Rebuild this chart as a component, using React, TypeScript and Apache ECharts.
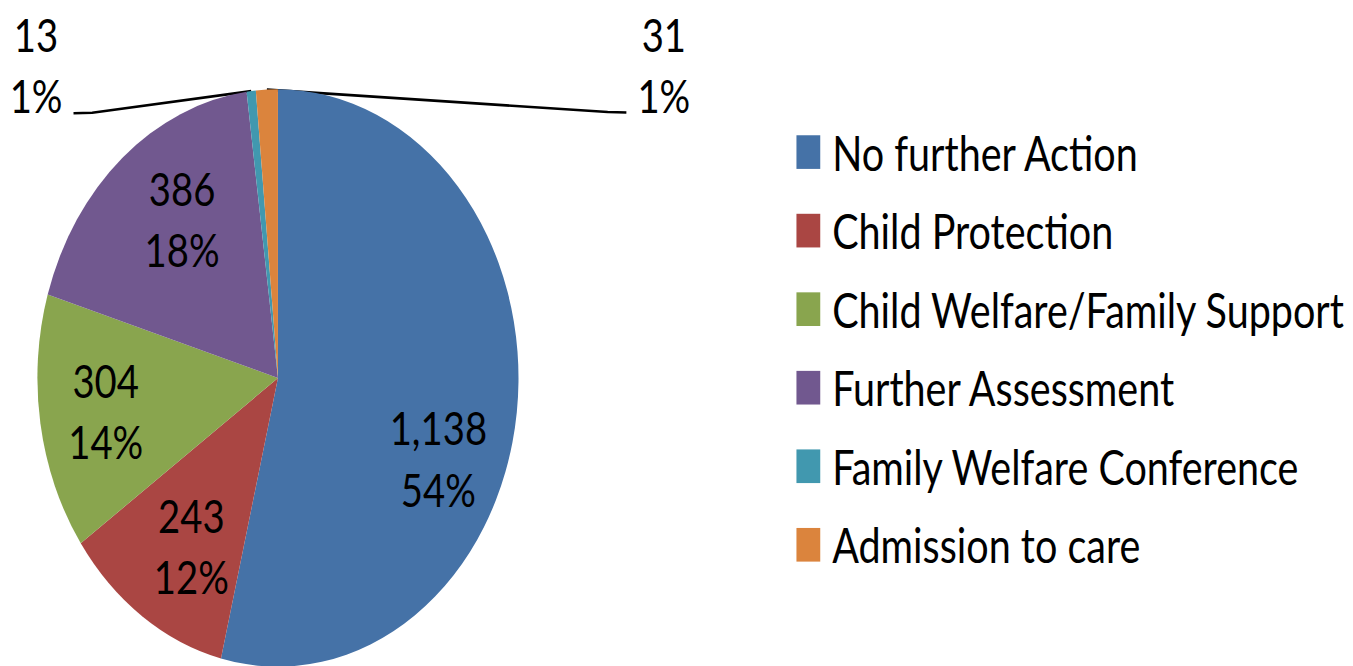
import React, { useEffect, useRef } from "react";
import * as echarts from "echarts";

// ---- data ----
const categories = [
  "No further Action",
  "Child Protection",
  "Child Welfare/Family Support",
  "Further Assessment",
  "Family Welfare Conference",
  "Admission to care",
];
const values = [1138, 243, 304, 386, 13, 31];
const percentLabels = ["54%", "12%", "14%", "18%", "1%", "1%"];
const colors = ["#4572A7", "#AA4643", "#89A54E", "#71588F", "#4198AF", "#DB843D"];

// ---- layout (unscaled chart coordinates) ----
const SX = 0.85;
const SY = 1.02;
const W = 1353;
const H = 666;
const CW = Math.round(W / SX);
const CH = Math.round(H / SY);
const CX = 327;
const CY = 370.6;
const R = 283;
const INSIDE_K = 1.42;
const FONT = "Lato, 'Open Sans', sans-serif";
// small best-fit nudges for the inside labels (layout only)
const LABEL_NUDGE: [number, number][] = [
  [-15, 54],
  [14, -5],
  [0, 0],
  [20, 0],
];
const OUT_LABELS = [
  { x: 42.4, y: 63, lineY: 110.5, side: 1 },
  { x: 781, y: 63, lineY: 109.8, side: -1 },
];

export default function App() {
  const ref = useRef<HTMLDivElement>(null);

  useEffect(() => {
    if (!ref.current) return;
    const chart = echarts.init(ref.current, undefined, { renderer: "svg" });
    const total = values.reduce((a, b) => a + b, 0);
    const cum: number[] = [];
    let acc = 0;
    values.forEach((v) => {
      cum.push(acc);
      acc += v;
    });
    const isSmall = (i: number) => values[i] / total < 0.03;
    const smallOrder = values.map((_, i) => i).filter((i) => isSmall(i));

    const data = categories.map((name, i) => ({
      name,
      value: values[i],
      itemStyle: { color: colors[i] },
      label: { position: isSmall(i) ? "outside" : "inside" },
      labelLine: { show: isSmall(i) },
    }));

    chart.setOption({
      animation: false,
      legend: {
        orient: "vertical",
        left: 937,
        top: 125.6,
        itemWidth: 28,
        itemHeight: 33,
        itemGap: 30,
        icon: "rect",
        padding: 0,
        data: categories,
        textStyle: {
          color: "#000",
          fontSize: 46.5,
          fontFamily: FONT,
          lineHeight: 33,
          padding: [0, 0, 0, 9],
        },
      },
      series: [
        {
          type: "pie",
          center: [CX, CY],
          radius: R,
          startAngle: 90,
          clockwise: true,
          avoidLabelOverlap: false,
          itemStyle: { borderWidth: 0 },
          emphasis: { disabled: true },
          label: {
            position: "outside",
            color: "#000",
            fontSize: 45,
            fontFamily: FONT,
            lineHeight: 60,
            align: "center",
            formatter: (p: any) =>
              values[p.dataIndex].toLocaleString("en-US") + "\n" + percentLabels[p.dataIndex],
          },
          labelLine: {
            lineStyle: { color: "#000", width: 2.6 },
            length: 10,
            length2: 10,
          },
          labelLayout: (p: any) => {
            const i = p.dataIndex;
            if (isSmall(i)) {
              const o = OUT_LABELS[smallOrder.indexOf(i)];
              const frac = (cum[i] + values[i] / 2) / total;
              const ang = ((90 - frac * 360) * Math.PI) / 180;
              const sx = CX + R * Math.cos(ang);
              const sy = CY - R * Math.sin(ang);
              const half = p.labelRect.width / 2;
              const endX = o.x + o.side * (half + 13);
              const midX = endX + o.side * 22;
              return {
                x: o.x,
                y: o.y,
                align: "center",
                verticalAlign: "middle",
                labelLinePoints: [
                  [sx, sy],
                  [midX, o.lineY],
                  [endX, o.lineY + 0.5],
                ],
              };
            }
            const r = p.labelRect;
            const mx = r.x + r.width / 2;
            const my = r.y + r.height / 2;
            const nudge = LABEL_NUDGE[i] || [0, 0];
            return {
              x: CX + (mx - CX) * INSIDE_K + nudge[0],
              y: CY + (my - CY) * INSIDE_K + nudge[1],
              align: "center",
              verticalAlign: "middle",
            };
          },
          data,
        },
      ],
    });
    return () => chart.dispose();
  }, []);

  return (
    <div
      style={{
        position: "fixed",
        left: 0,
        top: 0,
        width: W,
        height: H,
        overflow: "hidden",
        background: "#fff",
      }}
    >
      <div
        ref={ref}
        style={{
          width: CW,
          height: CH,
          transform: `scale(${SX}, ${SY})`,
          transformOrigin: "0 0",
        }}
      />
    </div>
  );
}
